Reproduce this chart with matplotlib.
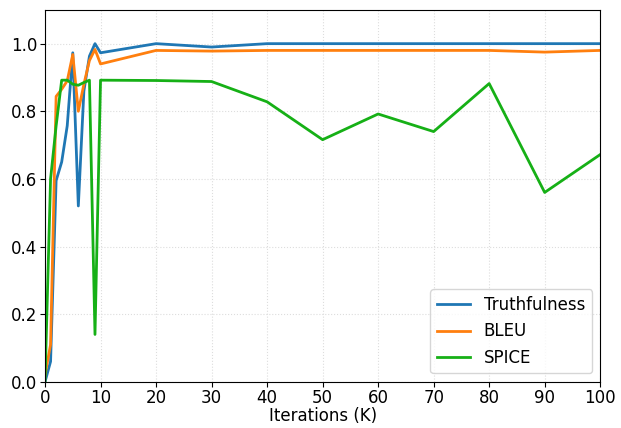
import matplotlib
matplotlib.use("Agg")
import matplotlib.pyplot as plt

iters = [0, 1, 2, 3, 4, 5, 6, 7, 8, 9, 10, 20, 30, 40, 50, 60, 70, 80, 90, 100]
truthfulness = [0.0, 0.06, 0.595, 0.65, 0.757, 0.973, 0.52, 0.86, 0.963, 1.0, 0.973,
                1.0, 0.99, 1.0, 1.0, 1.0, 1.0, 1.0, 1.0, 1.0]
bleu = [0.02, 0.11, 0.844, 0.865, 0.89, 0.968, 0.80, 0.88, 0.95, 0.983, 0.94,
        0.98, 0.978, 0.98, 0.98, 0.98, 0.98, 0.98, 0.975, 0.98]
spice = [0.0, 0.6, 0.757, 0.892, 0.892, 0.88, 0.877, 0.885, 0.892, 0.14, 0.892,
         0.891, 0.888, 0.828, 0.716, 0.792, 0.74, 0.882, 0.56, 0.672]

fig = plt.figure(figsize=(6.21, 4.28), dpi=100)
ax = fig.add_axes([0.0725, 0.108, 0.894, 0.869])

ax.plot(iters, truthfulness, color="#1f77b4", lw=2, label="Truthfulness")
ax.plot(iters, bleu, color="#ff7f0e", lw=2, label="BLEU")
ax.plot(iters, spice, color="#16b016", lw=2, label="SPICE")

ax.set_xlim(0, 100)
ax.set_ylim(0, 1.1)
ax.set_xticks(range(0, 101, 10))
ax.set_yticks([0.0, 0.2, 0.4, 0.6, 0.8, 1.0])
ax.grid(True, ls=":", color="#dddddd", lw=0.8)
ax.tick_params(labelsize=12, pad=2)
ax.set_xlabel("Iterations (K)", fontsize=12, labelpad=0)
ax.legend(loc="lower right", fontsize=12)

fig.savefig("out.png", dpi=100)
